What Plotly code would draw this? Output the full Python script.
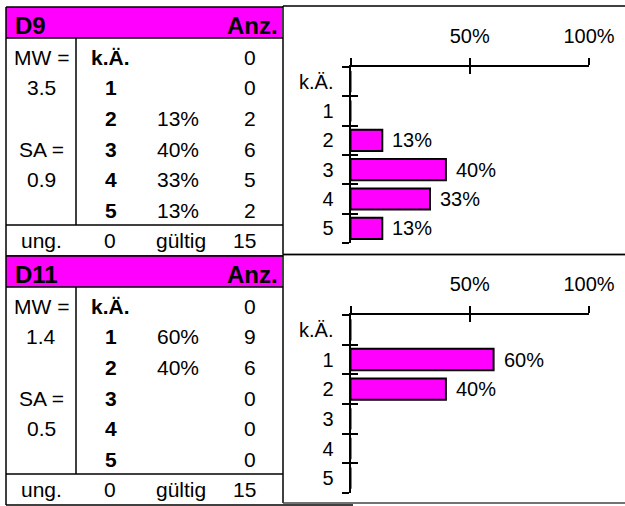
import plotly.graph_objects as go

# ---------------- data ----------------
categories = ["k.Ä.", "1", "2", "3", "4", "5"]
block_names = ["D9", "D11"]
d9_counts = [0, 0, 2, 6, 5, 2]
d11_counts = [0, 9, 6, 0, 0, 0]
mw_values = [3.5, 1.4]
sa_values = [0.9, 0.5]
ung_values = [0, 0]
gueltig_values = [15, 15]
x_tickvals = [0, 50, 100]
x_ticktext = ["", "50%", "100%"]

counts_all = [d9_counts, d11_counts]

# ---------------- layout constants ----------------
W, H = 625, 506
FONT = "Liberation Sans, Arial, sans-serif"
MAGENTA = "#FF00FF"
table_tops = [7, 256]
table_left, table_right, inner_x = 6, 283, 76
panel_tops = [6, 254.5]
panel_bottoms = [254.5, 503]
chart_tops = [67, 315]
chart_bottoms = [243, 493]
chart_x0, chart_x1 = 350.5, 589
TSIZE = 21
HSIZE = 24
CSIZE = 20

fig = go.Figure()
# canvas axes (pixel coordinates) for the table drawing
fig.add_trace(go.Scatter(x=[], y=[], xaxis="x", yaxis="y", hoverinfo="skip", showlegend=False))

shapes = []
annotations = []

def line(x0, y0, x1, y1, w=1.5, color="black"):
    shapes.append(dict(type="line", xref="x", yref="y", x0=x0, y0=y0, x1=x1, y1=y1,
                       line=dict(color=color, width=w)))

def txt(x, y, s, anchor="center", size=TSIZE, bold=False):
    annotations.append(dict(xref="x", yref="y", x=x, y=y, text=(f"<b>{s}</b>" if bold else s),
                            xanchor=anchor, yanchor="middle", showarrow=False,
                            font=dict(family=FONT, size=size, color="black")))

layout_axes = {}
for b in range(2):
    top = table_tops[b]
    counts = counts_all[b]
    total = gueltig_values[b]
    pct = [c / total * 100 for c in counts]

    # header
    shapes.append(dict(type="rect", xref="x", yref="y", x0=table_left, x1=table_right - 1,
                       y0=top, y1=top + 31, fillcolor=MAGENTA, line=dict(width=0)))
    line(table_left, top, table_right, top)
    line(table_left, top + 31, table_right, top + 31)
    line(table_left, top + 218, table_right, top + 218)
    line(table_left, top + 249, table_right if b == 0 else 353, top + 249)
    line(table_left, top, table_left, top + 249)
    line(inner_x, top + 31, inner_x, top + 218)
    txt(13, top + 18, block_names[b], anchor="left", size=HSIZE, bold=True)
    txt(279.5, top + 18, "Anz.", anchor="right", size=HSIZE, bold=True)

    row_y = [top + 50 + 30.7 * i for i in range(6)]
    # MW / SA column
    txt(41, row_y[0], "MW =")
    txt(41, row_y[1], f"{mw_values[b]}")
    txt(41, row_y[3], "SA =")
    txt(41, row_y[4], f"{sa_values[b]}")
    for i, cat in enumerate(categories):
        if i == 0:
            txt(89, row_y[i], cat, anchor="left", bold=True)
        else:
            txt(111, row_y[i], cat, bold=True)
        if i > 0 and counts[i] > 0:
            txt(178, row_y[i], f"{round(pct[i])}%")
        txt(257.5, row_y[i], f"{counts[i]}", anchor="right")
    uy = top + 233.5
    txt(41, uy, "ung.")
    txt(110, uy, f"{ung_values[b]}")
    txt(180.5, uy, "gültig")
    txt(257.5, uy, f"{gueltig_values[b]}", anchor="right")

    # right panel box
    line(table_right, panel_tops[b], table_right, panel_bottoms[b])
    line(table_right, panel_tops[b], W + 5, panel_tops[b])
    line(table_right, panel_bottoms[b], W + 5, panel_bottoms[b], color="#444")

    # bar chart
    xn, yn = 2 + b, 2 + b
    xo, yo = 4 + b, 4 + b
    fig.add_trace(go.Bar(x=pct, y=list(range(len(categories))), orientation="h",
                         width=0.72, marker=dict(color=MAGENTA, line=dict(color="black", width=2)),
                         xaxis=f"x{xn}", yaxis=f"y{yn}", hoverinfo="skip", showlegend=False))
    fig.add_trace(go.Scatter(x=[], y=[], xaxis=f"x{xo}", yaxis=f"y{yn}", showlegend=False, hoverinfo="skip"))
    fig.add_trace(go.Scatter(x=[], y=[], xaxis=f"x{xn}", yaxis=f"y{yo}", showlegend=False, hoverinfo="skip"))
    for i, p in enumerate(pct):
        if p > 0:
            annotations.append(dict(xref=f"x{xn}", yref=f"y{yn}", x=p, y=i, text=f"{round(p)}%",
                                    xanchor="left", yanchor="middle", xshift=8, showarrow=False,
                                    font=dict(family=FONT, size=CSIZE, color="black")))
    xdom = [chart_x0 / W, chart_x1 / W]
    ydom = [1 - chart_bottoms[b] / H, 1 - chart_tops[b] / H]
    bounds = [i - 0.5 for i in range(len(categories) + 1)]
    common_tick = dict(ticklen=7, tickwidth=2, tickcolor="black")
    layout_axes[f"xaxis{xn}"] = dict(domain=xdom, range=[0, 100], anchor=f"y{yn}", side="top",
                                     showline=True, linewidth=2, linecolor="black",
                                     tickmode="array", tickvals=x_tickvals, ticktext=x_ticktext,
                                     ticks="outside", **common_tick, showgrid=False, zeroline=False,
                                     ticklabelstandoff=7, automargin=False,
                                     tickfont=dict(family=FONT, size=CSIZE, color="black"), fixedrange=True)
    layout_axes[f"xaxis{xo}"] = dict(overlaying=f"x{xn}", range=[0, 100], anchor=f"y{yn}", side="top",
                                     showline=False, tickmode="array", tickvals=x_tickvals,
                                     ticks="inside", **common_tick, showticklabels=False, automargin=False,
                                     showgrid=False, zeroline=False, fixedrange=True)
    layout_axes[f"yaxis{yn}"] = dict(domain=ydom, range=[len(categories) - 0.5, -0.5], anchor=f"x{xn}",
                                     showline=True, linewidth=2, linecolor="black",
                                     tickmode="array", tickvals=list(range(len(categories))),
                                     ticktext=categories, ticks="",
                                     minor=dict(tickmode="array", tickvals=bounds, ticks="outside", **common_tick),
                                     showgrid=False, zeroline=False, ticklabelstandoff=11, automargin=False,
                                     tickfont=dict(family=FONT, size=CSIZE, color="black"), fixedrange=True)
    layout_axes[f"yaxis{yo}"] = dict(overlaying=f"y{yn}", range=[len(categories) - 0.5, -0.5],
                                     anchor=f"x{xn}", showline=False, tickmode="array", tickvals=bounds,
                                     ticks="inside", **common_tick, showticklabels=False, automargin=False,
                                     showgrid=False, zeroline=False, fixedrange=True)

fig.update_layout(
    width=W, height=H, margin=dict(l=0, r=0, t=0, b=0, pad=0, autoexpand=False), autosize=False,
    paper_bgcolor="white", plot_bgcolor="rgba(0,0,0,0)",
    xaxis=dict(domain=[0, 1], range=[0, W], visible=False, fixedrange=True, anchor="y", automargin=False),
    yaxis=dict(domain=[0, 1], range=[H, 0], visible=False, fixedrange=True, anchor="x", automargin=False),
    shapes=shapes, annotations=annotations, showlegend=False,
    **layout_axes,
)

fig.write_html("out.html", config={"displayModeBar": False})

# remove the browser's default page margin so the figure sits at the window origin
with open("out.html", "r", encoding="utf-8") as f:
    html = f.read()
html = html.replace("<head>", "<head><style>html,body{margin:0;padding:0;overflow:hidden;}</style>", 1)
with open("out.html", "w", encoding="utf-8") as f:
    f.write(html)
